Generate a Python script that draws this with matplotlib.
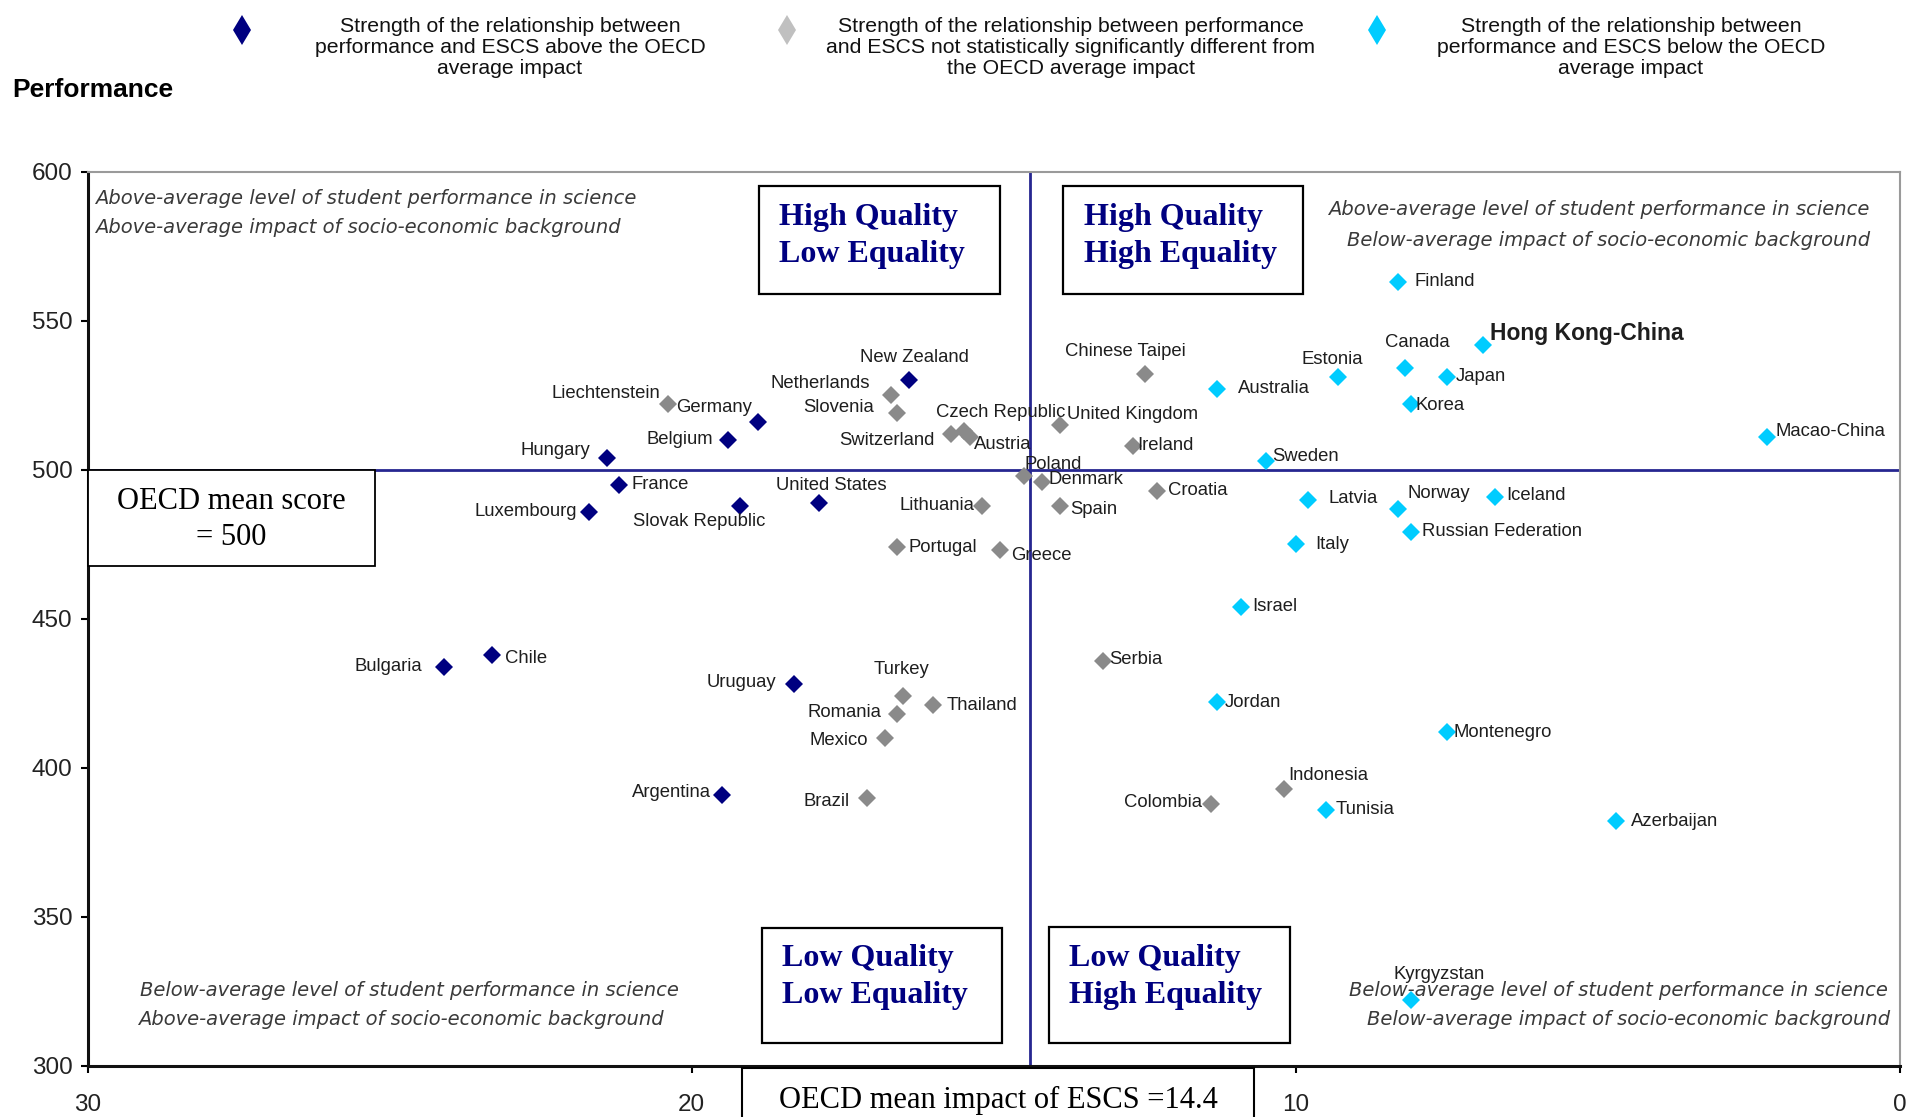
import matplotlib
from matplotlib import pyplot as plt
from matplotlib.patches import Rectangle
from matplotlib.lines import Line2D

matplotlib.use("Agg")

# strength of the ESCS / science performance relationship (% variance explained)
above_countries = ["New Zealand", "Germany", "Belgium", "Hungary", "France", "Luxembourg",
                   "Slovak Republic", "United States", "Bulgaria", "Chile", "Uruguay", "Argentina"]
above_escs = [16.4, 18.9, 19.4, 21.4, 21.2, 21.7, 19.2, 17.9, 24.1, 23.3, 18.3, 19.5]
above_score = [530, 516, 510, 504, 495, 486, 488, 489, 434, 438, 428, 391]

same_countries = ["Liechtenstein", "Netherlands", "Slovenia", "Switzerland", "Czech Republic",
                  "Austria", "Lithuania", "Portugal", "Greece", "Poland", "Denmark", "Spain",
                  "Chinese Taipei", "United Kingdom", "Ireland", "Croatia", "Serbia", "Turkey",
                  "Romania", "Thailand", "Mexico", "Brazil", "Colombia", "Indonesia"]
same_escs = [20.4, 16.7, 16.6, 15.7, 15.5, 15.4, 15.2, 16.6, 14.9, 14.5, 14.2, 13.9,
             12.5, 13.9, 12.7, 12.3, 13.2, 16.5, 16.6, 16.0, 16.8, 17.1, 11.4, 10.2]
same_score = [522, 525, 519, 512, 513, 511, 488, 474, 473, 498, 496, 488,
              532, 515, 508, 493, 436, 424, 418, 421, 410, 390, 388, 393]

below_countries = ["Finland", "Hong Kong-China", "Canada", "Estonia", "Japan", "Korea",
                   "Australia", "Macao-China", "Sweden", "Latvia", "Norway", "Iceland",
                   "Russian Federation", "Italy", "Israel", "Jordan", "Montenegro", "Tunisia",
                   "Azerbaijan", "Kyrgyzstan"]
below_escs = [8.3, 6.9, 8.2, 9.3, 7.5, 8.1, 11.3, 2.2, 10.5, 9.8, 8.3, 6.7,
              8.1, 10.0, 10.9, 11.3, 7.5, 9.5, 4.7, 8.1]
below_score = [563, 542, 534, 531, 531, 522, 527, 511, 503, 490, 487, 491,
               479, 475, 454, 422, 412, 386, 382, 322]

oecd_mean_score = 500
oecd_mean_escs = 14.4

legend_labels = [
    "Strength of the relationship between\nperformance and ESCS above the OECD\naverage impact",
    "Strength of the relationship between performance\nand ESCS not statistically significantly different from\nthe OECD average impact",
    "Strength of the relationship between\nperformance and ESCS below the OECD\naverage impact",
]

# label placement: offset in pixels from the marker, horizontal alignment
label_pos = {
    "New Zealand": (5, 23, "center"), "Germany": (-44, 15, "center"),
    "Belgium": (-15, 1, "right"), "Hungary": (-17, 7, "right"),
    "France": (12, 0, "left"), "Luxembourg": (-12, 0, "right"),
    "Slovak Republic": (-41, -16, "center"), "United States": (13, 17, "center"),
    "Bulgaria": (-22, 0, "right"), "Chile": (13, -4, "left"),
    "Uruguay": (-18, 2, "right"), "Argentina": (-11, 2, "right"),
    "Liechtenstein": (-7, 11, "right"), "Netherlands": (-21, 12, "right"),
    "Slovenia": (-23, 6, "right"), "Switzerland": (-17, -6, "right"),
    "Czech Republic": (37, 19, "center"), "Austria": (4, -7, "left"),
    "Lithuania": (-7, 0, "right"), "Portugal": (11, 0, "left"),
    "Greece": (11, -5, "left"), "Poland": (29, 11, "center"),
    "Denmark": (6, 2, "left"), "Spain": (10, -4, "left"),
    "Chinese Taipei": (-19, 23, "center"), "United Kingdom": (7, 11, "left"),
    "Ireland": (5, 0, "left"), "Croatia": (11, 0, "left"),
    "Serbia": (7, 1, "left"), "Turkey": (-2, 27, "center"),
    "Romania": (-16, 2, "right"), "Thailand": (13, 0, "left"),
    "Mexico": (-17, -2, "right"), "Brazil": (-17, -4, "right"),
    "Colombia": (-9, 1, "right"), "Indonesia": (5, 13, "left"),
    "Finland": (16, 1, "left"), "Hong Kong-China": (7, 11, "left"),
    "Canada": (13, 26, "center"), "Estonia": (-6, 18, "center"),
    "Japan": (9, 1, "left"), "Korea": (5, -1, "left"),
    "Australia": (21, 1, "left"), "Macao-China": (9, 6, "left"),
    "Sweden": (7, 4, "left"), "Latvia": (21, 1, "left"),
    "Norway": (9, 15, "left"), "Iceland": (11, 1, "left"),
    "Russian Federation": (11, 1, "left"), "Italy": (19, 0, "left"),
    "Israel": (11, 0, "left"), "Jordan": (7, 0, "left"),
    "Montenegro": (7, 0, "left"), "Tunisia": (10, 0, "left"),
    "Azerbaijan": (15, 0, "left"), "Kyrgyzstan": (29, 26, "center"),
}

NAVY = "#000080"
GREY = "#8a8a8a"
CYAN = "#00ccff"
LINE = "#262690"

fig = plt.figure(figsize=(19.1, 11.17), dpi=100)
ax = fig.add_axes([0.0459, 0.0458, 0.9488, 0.8004])

groups = [
    (above_countries, above_escs, above_score, NAVY),
    (same_countries, same_escs, same_score, GREY),
    (below_countries, below_escs, below_score, CYAN),
]
for names, xs, ys, col in groups:
    ax.plot(xs, ys, linestyle="none", marker="D", markersize=9.5, color=col,
            markeredgewidth=0, zorder=4)
    for name, x, y in zip(names, xs, ys):
        dx, dy, ha = label_pos[name]
        bold = name == "Hong Kong-China"
        ax.annotate(name, (x, y), xytext=(dx, dy), textcoords="offset pixels",
                    ha=ha, va="center", fontsize=16.5 if bold else 13.3,
                    fontweight="bold" if bold else "normal",
                    family="Liberation Sans", color="#1e1e1e", zorder=5)

ax.axhline(oecd_mean_score, color=LINE, lw=2, zorder=2)
ax.axvline(oecd_mean_escs, color=LINE, lw=2, zorder=2)

ax.set_xlim(30, 0)
ax.set_ylim(300, 600)
ax.set_xticks([30, 20, 10, 0])
ax.set_yticks([300, 350, 400, 450, 500, 550, 600])
ax.tick_params(axis="both", direction="out", length=5, width=1.5, labelsize=17.5,
               labelcolor="#222222")
ax.tick_params(axis="x", pad=15)
ax.tick_params(axis="y", pad=6)
for lab in ax.get_xticklabels() + ax.get_yticklabels():
    lab.set_family("Liberation Sans")
for side in ("top", "right"):
    ax.spines[side].set_color("#9a9a9a")
    ax.spines[side].set_linewidth(1.5)
for side in ("left", "bottom"):
    ax.spines[side].set_color("#111111")
    ax.spines[side].set_linewidth(2.2)

# quadrant descriptions
desc = dict(style="italic", fontsize=14, color="#3a3a3a", va="center", family="DejaVu Sans")
ax.text(29.88, 591, "Above-average level of student performance in science", ha="left", **desc)
ax.text(29.88, 581.2, "Above-average impact of socio-economic background", ha="left", **desc)
ax.text(0.5, 587.3, "Above-average level of student performance in science", ha="right", **desc)
ax.text(0.5, 577.1, "Below-average impact of socio-economic background", ha="right", **desc)
ax.text(29.13, 325.4, "Below-average level of student performance in science", ha="left", **desc)
ax.text(29.17, 315.6, "Above-average impact of socio-economic background", ha="left", **desc)
ax.text(0.2, 325.4, "Below-average level of student performance in science", ha="right", **desc)
ax.text(0.16, 315.6, "Below-average impact of socio-economic background", ha="right", **desc)

# quality / equality boxes
boxes = [
    (18.89, 14.90, 559.1, 595.1, 18.55, 584.5, 572.2, "High Quality", "Low Equality"),
    (13.85, 9.88, 559.1, 595.1, 13.51, 584.5, 572.2, "High Quality", "High Equality"),
    (18.83, 14.86, 307.8, 346.2, 18.51, 336.0, 323.7, "Low Quality", "Low Equality"),
    (14.09, 10.10, 307.8, 346.6, 13.75, 336.0, 323.7, "Low Quality", "High Equality"),
]
for x0, x1, y0, y1, tx, ty1, ty2, l1, l2 in boxes:
    ax.add_patch(Rectangle((x1, y0), x0 - x1, y1 - y0, facecolor="white",
                           edgecolor="black", lw=1.6, zorder=3))
    for ty, txt in ((ty1, l1), (ty2, l2)):
        ax.text(tx, ty, txt, ha="left", va="center", fontsize=23, fontweight="bold",
                family="Liberation Serif", color=NAVY, zorder=4)

# OECD mean score box
ax.add_patch(Rectangle((25.24, 467.6), 30.0 - 25.24, 32.4, facecolor="white",
                       edgecolor="black", lw=1.3, zorder=3, clip_on=False))
ax.text(27.62, 483.3, "OECD mean score\n= 500", ha="center", va="center", fontsize=22,
        family="Liberation Serif", linespacing=1.3, zorder=4)

# OECD mean impact box under the x axis (runs off the bottom edge)
fig.patches.append(Rectangle((0.3884, -0.03), 0.2684, 0.0739, transform=fig.transFigure,
                             facecolor="white", edgecolor="black", lw=1.5))
fig.text(0.5226, 0.0152, "OECD mean impact of ESCS =14.4", ha="center", va="center",
         fontsize=22, family="Liberation Serif")

# legend
legend_cols = [NAVY, "#c0c0c0", CYAN]
marker_x = [0.1269, 0.4119, 0.7212]
text_x = [0.267, 0.5605, 0.8539]
for col, mx, tx, lab in zip(legend_cols, marker_x, text_x, legend_labels):
    fig.add_artist(Line2D([mx], [0.9727], transform=fig.transFigure, marker="d",
                          markersize=15, color=col, markeredgewidth=0, linestyle="none"))
    fig.text(tx, 0.9575, lab, ha="center", va="center", fontsize=15.3,
             family="Liberation Sans", linespacing=1.12, color="#111111")

fig.text(0.0063, 0.9194, "Performance", ha="left", va="center", fontsize=19,
         fontweight="bold", family="Liberation Sans")

fig.savefig("out.png", dpi=100)
plt.close(fig)
